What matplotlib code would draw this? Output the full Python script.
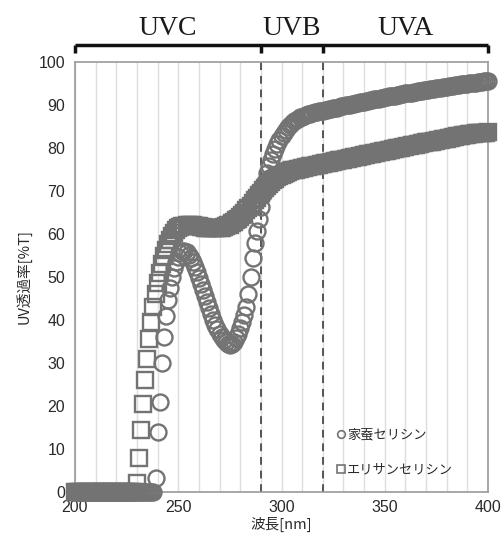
import matplotlib
matplotlib.use("Agg")
import matplotlib.pyplot as plt
from matplotlib.lines import Line2D
import matplotlib.transforms as mtransforms

plt.rcParams['font.family'] = ['Liberation Sans', 'Noto Sans CJK JP', 'DejaVu Sans']

# ---------------- data ----------------
wavelength = list(range(200, 401))  # nm

kaiko_sericin = [  # 家蚕セリシン (circles), 200..400 nm
    0, 0, 0, 0, 0, 0, 0, 0, 0, 0,
    0, 0, 0, 0, 0, 0, 0, 0, 0, 0,
    0, 0, 0, 0, 0, 0, 0, 0, 0, 0,
    0, 0, 0, 0, 0, 0, 0, 0, 0, 3.3,
    14, 21, 30, 36, 41, 44.7, 47.5, 50, 52, 53.5,
    54.7, 55.5, 56, 56.1, 55.8, 55.2, 54.4, 53.4, 52.3, 51.1,
    49.8, 48.4, 47, 45.6, 44.2, 42.8, 41.4, 40.1, 38.9, 37.8,
    36.8, 36, 35.3, 34.8, 34.5, 34.3, 34.4, 34.9, 35.7, 36.8,
    38.1, 39.6, 41.2, 43, 46, 50, 54.5, 58, 60.8, 63.4,
    66.2, 69.2, 72, 74.2, 75.9, 77.3, 78.6, 79.8, 80.9, 81.9,
    82.8, 83.6, 84.3, 84.9, 85.4, 85.8, 86.2, 86.5, 86.8, 87.1,
    87.3, 87.5, 87.7, 87.9, 88.0, 88.2, 88.3, 88.4, 88.5, 88.6,
    88.7, 88.8, 88.9, 89.0, 89.1, 89.2, 89.3, 89.4, 89.6, 89.7,
    89.8, 89.9, 90.0, 90.1, 90.2, 90.3, 90.4, 90.5, 90.6, 90.7,
    90.8, 90.9, 91.0, 91.1, 91.2, 91.3, 91.4, 91.5, 91.6, 91.7,
    91.8, 91.9, 92.0, 92.1, 92.1, 92.2, 92.3, 92.4, 92.5, 92.6,
    92.7, 92.8, 92.9, 92.9, 93.0, 93.1, 93.2, 93.3, 93.3, 93.4,
    93.5, 93.6, 93.7, 93.7, 93.8, 93.9, 94.0, 94.0, 94.1, 94.2,
    94.3, 94.4, 94.4, 94.5, 94.6, 94.6, 94.7, 94.8, 94.8, 94.9,
    95.0, 95.1, 95.1, 95.2, 95.2, 95.3, 95.4, 95.4, 95.5, 95.5,
    95.6,
]

eri_sericin = [  # エリサンセリシン (squares), 200..400 nm
    0, 0, 0, 0, 0, 0, 0, 0, 0, 0,
    0, 0, 0, 0, 0, 0, 0, 0, 0, 0,
    0, 0, 0, 0, 0, 0, 0, 0, 0, 0,
    2, 8, 14.5, 20.5, 26, 31, 35.5, 39.5, 43, 46,
    48.7, 51, 53, 54.8, 56.3, 57.6, 58.7, 59.6, 60.3, 60.9,
    61.3, 61.6, 61.8, 61.9, 62.0, 62.0, 62.0, 62.0, 61.9, 61.9,
    61.8, 61.7, 61.6, 61.5, 61.4, 61.4, 61.3, 61.3, 61.3, 61.3,
    61.4, 61.5, 61.6, 61.8, 62.0, 62.2, 62.5, 62.8, 63.2, 63.6,
    64.0, 64.5, 65.0, 65.5, 66.0, 66.6, 67.2, 67.8, 68.4, 69.0,
    69.6, 70.2, 70.7, 71.2, 71.7, 72.1, 72.5, 72.9, 73.2, 73.5,
    73.8, 74.0, 74.2, 74.4, 74.6, 74.8, 74.9, 75.0, 75.1, 75.2,
    75.3, 75.4, 75.5, 75.6, 75.7, 75.8, 75.9, 76.0, 76.1, 76.2,
    76.3, 76.4, 76.5, 76.6, 76.7, 76.8, 76.9, 77.0, 77.1, 77.2,
    77.3, 77.4, 77.5, 77.6, 77.7, 77.8, 77.9, 78.0, 78.1, 78.2,
    78.3, 78.4, 78.5, 78.6, 78.7, 78.8, 78.9, 79.0, 79.1, 79.2,
    79.3, 79.4, 79.5, 79.6, 79.7, 79.8, 79.9, 80.0, 80.1, 80.2,
    80.3, 80.4, 80.5, 80.6, 80.7, 80.8, 80.9, 81.0, 81.1, 81.2,
    81.3, 81.4, 81.5, 81.5, 81.6, 81.7, 81.8, 81.9, 82.0, 82.1,
    82.2, 82.3, 82.4, 82.5, 82.6, 82.7, 82.8, 82.9, 83.0, 83.1,
    83.1, 83.2, 83.3, 83.3, 83.4, 83.4, 83.5, 83.5, 83.6, 83.6,
    83.7,
]

series_labels = ['家蚕セリシン', 'エリサンセリシン']
band_edges = [200, 290, 320, 400]
band_names = ['UVC', 'UVB', 'UVA']
x_ticks = [200, 250, 300, 350, 400]
y_ticks = [0, 10, 20, 30, 40, 50, 60, 70, 80, 90, 100]

# ---------------- figure ----------------
fig = plt.figure(figsize=(5.04, 5.43), dpi=100)
ax = fig.add_axes([75 / 504, 1 - 492 / 543, (488 - 75) / 504, (492 - 62) / 543])

gray = '#737373'
ax.plot(wavelength, eri_sericin, linestyle='none', marker='s', markersize=11,
        markerfacecolor='none', markeredgecolor=gray, markeredgewidth=1.7,
        clip_on=False, zorder=3)
ax.plot(wavelength, kaiko_sericin, linestyle='none', marker='o', markersize=11.5,
        markerfacecolor='none', markeredgecolor=gray, markeredgewidth=1.7,
        clip_on=False, zorder=4)

ax.set_xlim(200, 400)
ax.set_ylim(0, 100)
ax.set_xticks(x_ticks)
ax.set_yticks(y_ticks)
ax.set_xticks(list(range(200, 401, 10)), minor=True)
ax.grid(True, axis='x', which='both', color='#dedede', linewidth=1.0, zorder=0)
ax.set_axisbelow(True)
ax.tick_params(axis='both', which='both', length=0, labelsize=11.5,
               labelcolor='#2a2a2a')
ax.tick_params(axis='x', pad=6)
ax.tick_params(axis='y', pad=7)
for sp in ax.spines.values():
    sp.set_color('#9a9a9a')
    sp.set_linewidth(1.2)

# dashed boundaries
for xb in band_edges[1:-1]:
    ax.axvline(xb, color='#555555', linewidth=1.4, linestyle=(0, (4, 3)), zorder=2)

ax.set_xlabel('波長[nm]', fontsize=10.5, color='#2a2a2a', labelpad=1,
              family=['Noto Sans CJK JP', 'Liberation Sans'])
ax.set_ylabel('UV透過率[%T]', fontsize=10.5, color='#2a2a2a', labelpad=5,
              family=['Noto Sans CJK JP', 'Liberation Sans'])

# top bracket
trans = mtransforms.blended_transform_factory(ax.transData, ax.transAxes)
y_br = 1.04
y_tk = 1.021
ax.plot([band_edges[0], band_edges[-1]], [y_br, y_br], color='#111111',
        linewidth=2.5, transform=trans, clip_on=False, solid_capstyle='butt')
for xb in band_edges:
    ax.plot([xb, xb], [y_br, y_tk], color='#111111', linewidth=2.5,
            transform=trans, clip_on=False, solid_capstyle='butt')
for i, name in enumerate(band_names):
    xc = (band_edges[i] + band_edges[i + 1]) / 2
    ax.text(xc, 1.063, name, transform=trans, ha='center', va='baseline',
            fontsize=20, family='Liberation Serif', color='#1a1a1a')

# legend
handles = [
    Line2D([], [], linestyle='none', marker='o', markersize=5.5,
           markerfacecolor='none', markeredgecolor=gray, markeredgewidth=1.2),
    Line2D([], [], linestyle='none', marker='s', markersize=5.5,
           markerfacecolor='none', markeredgecolor=gray, markeredgewidth=1.2),
]
leg = ax.legend(handles, series_labels, loc='upper left',
                bbox_to_anchor=(0.635, 0.148), frameon=False,
                handlelength=0.5, handletextpad=0.25, labelspacing=1.65,
                borderaxespad=0, borderpad=0,
                prop={'family': ['Noto Sans CJK JP'], 'size': 9.5})
for t in leg.get_texts():
    t.set_color('#2a2a2a')

fig.savefig('out.png', dpi=100)
